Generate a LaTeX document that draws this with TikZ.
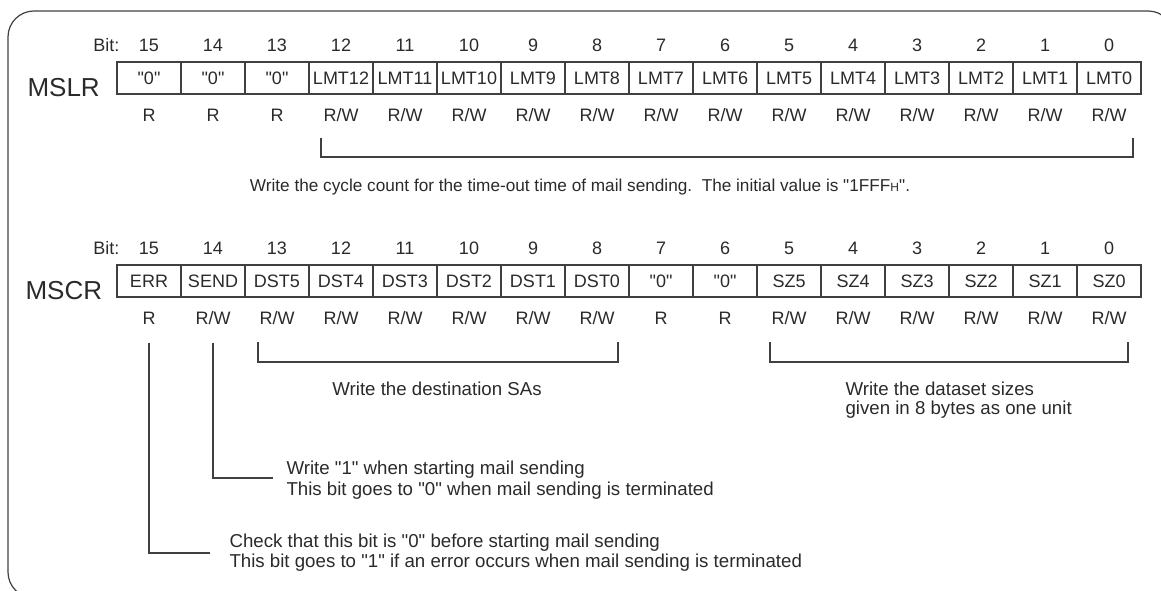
\documentclass[tikz,border=0pt]{standalone}
\usepackage{fontspec}
\setmainfont{Liberation Sans}
\definecolor{ink}{HTML}{2A2A2A}
\definecolor{rule}{HTML}{404040}
\newcommand\qq[1]{\textquotedbl#1\textquotedbl}
\begin{document}
\begin{tikzpicture}[x=0.75pt,y=-0.75pt,
  line width=0.8pt, draw=rule,
  cell/.style={draw=rule, line width=0.9pt, minimum width=48pt, minimum height=24pt, inner sep=0pt, text=ink, font=\fontsize{13.5}{16}\selectfont},
  txt/.style={inner sep=0pt, text=ink, font=\fontsize{13.5}{16}\selectfont},
  regname/.style={inner sep=0pt, anchor=base west, text=ink, font=\fontsize{19.5}{22}\selectfont},
  note/.style={inner sep=0pt, text=ink, font=\fontsize{14}{16}\selectfont},
  lead/.style={draw=rule, line width=0.8pt}]
\useasboundingbox (0,0) rectangle (1161,591);
\begin{scope}
  \clip (0,0) rectangle (1161,591);
  \draw[rule, line width=0.9pt, rounded corners=19.5pt] (8,11) rectangle (1174,598);
\end{scope}

% ---------- MSLR ----------
\node[regname] (mslr) at (27,97) {MSLR};
\node[txt, anchor=east] (bitL) at (120,45) {Bit:};
\foreach \b/\t in {15/\qq{0},14/\qq{0},13/\qq{0},12/LMT12,11/LMT11,10/LMT10,9/LMT9,8/LMT8,7/LMT7,6/LMT6,5/LMT5,4/LMT4,3/LMT3,2/LMT2,1/LMT1,0/LMT0}{
  \node[cell] (L\b) at ({1109-64*\b},78) {\t};
  \node[txt] (Ln\b) at ({1109-64*\b},45) {\b};
}
\foreach \b in {15,14,13} \node[txt] (La\b) at ({1109-64*\b},115) {R};
\foreach \b in {12,...,0} \node[txt] (La\b) at ({1109-64*\b},115) {R/W};

\coordinate (lb1) at (321,138);
\coordinate (lb2) at (1133,138);
\draw[lead] (lb1) -- ++(0,19) -| (lb2);
\node[note, font=\fontsize{12.9}{15}\selectfont] (lnote) at (580,187) {Write the cycle count for the time-out time of mail sending.\ \ The initial value is \qq{1FFF{\fontsize{9}{10}\selectfont H}}.};

% ---------- MSCR ----------
\node[regname] (mscr) at (25,300) {MSCR};
\node[txt, anchor=east] (bitC) at (120,248) {Bit:};
\foreach \b/\t in {15/ERR,14/SEND,13/DST5,12/DST4,11/DST3,10/DST2,9/DST1,8/DST0,7/\qq{0},6/\qq{0},5/SZ5,4/SZ4,3/SZ3,2/SZ2,1/SZ1,0/SZ0}{
  \node[cell] (C\b) at ({1109-64*\b},281) {\t};
  \node[txt] (Cn\b) at ({1109-64*\b},248) {\b};
}
\foreach \b in {15,7,6} \node[txt] (Ca\b) at ({1109-64*\b},318) {R};
\foreach \b in {14,13,12,11,10,9,8,5,4,3,2,1,0} \node[txt] (Ca\b) at ({1109-64*\b},318) {R/W};

\coordinate (db1) at (258,342);
\coordinate (db2) at (618,342);
\draw[lead] (db1) -- ++(0,20) -| (db2);
\node[note] (dnote) at (437,389) {Write the destination SAs};

\coordinate (sb1) at (770,342);
\coordinate (sb2) at (1128,342);
\draw[lead] (sb1) -- ++(0,20) -| (sb2);
\node[note, anchor=west] (snote1) at (845,389) {Write the dataset sizes};
\node[note, anchor=west] (snote2) at (845,410) {given in 8 bytes as one unit};

\coordinate (sendtop) at (213,343);
\node[note, anchor=west] (sendn1) at (286,470) {Write \qq{1} when starting mail sending};
\node[note, anchor=west] (sendn2) at (286,491) {This bit goes to \qq{0} when mail sending is terminated};
\coordinate (sendend) at (273,478);
\draw[lead] (sendtop) |- (sendend);

\coordinate (errtop) at (149,343);
\node[note, anchor=west] (errn1) at (229,543) {Check that this bit is \qq{0} before starting mail sending};
\node[note, anchor=west] (errn2) at (229,563) {This bit goes to \qq{1} if an error occurs when mail sending is terminated};
\coordinate (errend) at (210,553);
\draw[lead] (errtop) |- (errend);
\end{tikzpicture}
\end{document}
